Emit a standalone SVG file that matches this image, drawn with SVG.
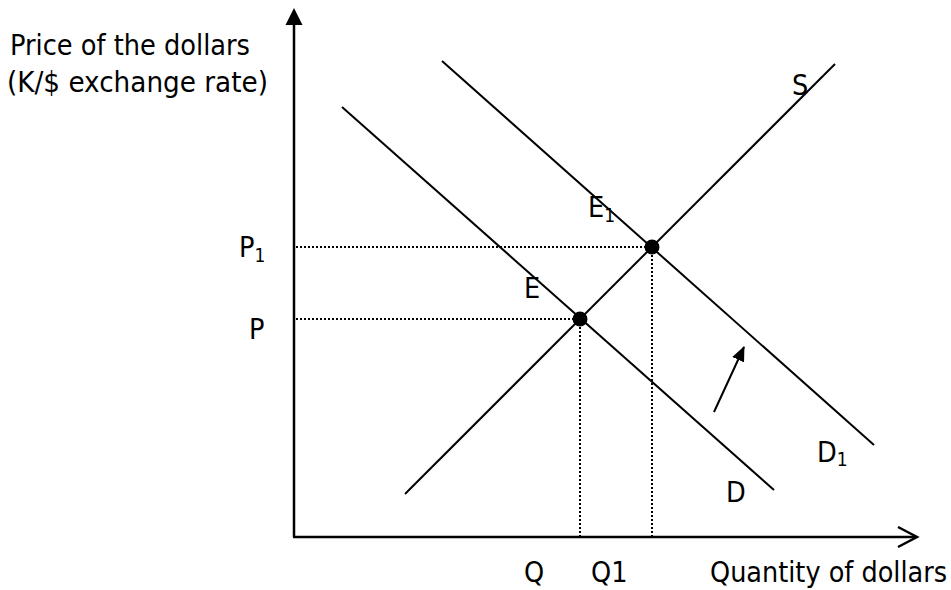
<svg xmlns="http://www.w3.org/2000/svg" width="951" height="590" viewBox="0 0 951 590">
<style>
text{font-family:"DejaVu Sans Condensed","DejaVu Sans",sans-serif;font-size:28.5px;fill:#000}
.sub{font-size:19px}
.curve{stroke:#000;stroke-width:2;fill:none}
.axis{stroke:#000;stroke-width:2.5;fill:none}
.dot{stroke:#000;stroke-width:2;stroke-dasharray:2 2;fill:none}
</style>
<defs>
<marker id="ah" markerWidth="15" markerHeight="13" refX="14" refY="6.5" orient="auto" markerUnits="userSpaceOnUse" viewBox="0 0 15 13">
<path d="M0,0 L15,6.5 L0,13 z" fill="#000"/>
</marker>
</defs>
<g id="axes">
<line class="axis" x1="294" y1="537" x2="294" y2="22"/>
<polygon points="294,8 285.5,25 302.5,25" fill="#000"/>
<line class="axis" x1="293" y1="537" x2="915" y2="537"/>
<polyline class="axis" points="898,527 917,537 898,547"/>
</g>
<g id="connectors">
<line class="dot" x1="296" y1="247" x2="652" y2="247"/>
<line class="dot" x1="296" y1="319" x2="580" y2="319"/>
<line class="dot" x1="580" y1="319" x2="580" y2="536"/>
<line class="dot" x1="652" y1="247" x2="652" y2="536"/>
<line class="curve" x1="405" y1="494" x2="835" y2="64"/>
<line class="curve" x1="342" y1="107" x2="774" y2="490"/>
<line class="curve" x1="442" y1="61" x2="874" y2="445"/>
<line stroke="#000" stroke-width="2" x1="714" y1="412" x2="744" y2="347" marker-end="url(#ah)"/>
</g>
<g id="E"><circle cx="580" cy="319" r="7.5" fill="#000"/><text x="524" y="298">E</text></g>
<g id="E1"><circle cx="652" cy="247" r="7.5" fill="#000"/><text x="588" y="217">E<tspan class="sub" dy="5">1</tspan></text></g>
<g id="S"><text x="792" y="95">S</text></g>
<g id="D"><text x="726" y="502">D</text></g>
<g id="D1"><text x="817" y="462">D<tspan class="sub" dy="4">1</tspan></text></g>
<g id="labels">
<text x="10" y="55" textLength="240" lengthAdjust="spacingAndGlyphs">Price of the dollars</text>
<text x="7" y="92" textLength="261" lengthAdjust="spacingAndGlyphs">(K/$ exchange rate)</text>
<text x="239" y="257">P<tspan class="sub" dy="5">1</tspan></text>
<text x="249" y="339">P</text>
<text x="524" y="582">Q</text>
<text x="591" y="582">Q1</text>
<text x="710" y="582" textLength="237" lengthAdjust="spacingAndGlyphs">Quantity of dollars</text>
</g>
</svg>
